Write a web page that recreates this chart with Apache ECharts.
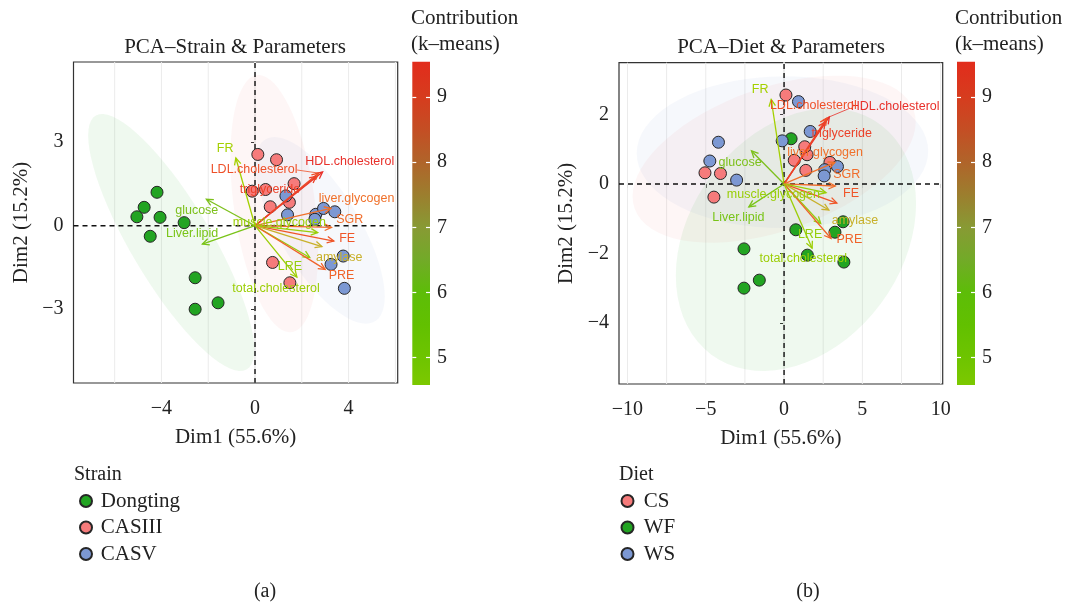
<!DOCTYPE html>
<html><head><meta charset="utf-8">
<script src="https://cdn.jsdelivr.net/npm/echarts@6/dist/echarts.min.js"></script>
<style>html,body{margin:0;padding:0;background:#fff}#c{width:1070px;height:605px}</style>
</head><body><div id="c"></div>
<script>
// ---------- individuals (PCA scores, Dim1 / Dim2) ----------
const sampleX = [-4.19,-4.74,-5.05,-4.06,-3.03,-4.48,-2.56,-1.58,-2.56,
                  0.12, 0.92,-0.12, 1.67, 1.47, 0.65, 0.45, 0.75, 1.49,
                  1.32, 1.39, 2.60, 2.93, 3.41, 2.56, 3.77, 3.25, 3.82];
const sampleY = [ 1.20, 0.66, 0.32, 0.30, 0.11,-0.38,-1.87,-2.77,-3.00,
                  2.56, 2.37, 1.24, 1.51, 0.84, 0.68, 1.30,-1.32,-2.05,
                  1.07, 0.39, 0.41, 0.62, 0.50, 0.23,-1.09,-1.39,-2.25];
const sampleStrain = ['Dongting','Dongting','Dongting','Dongting','Dongting','Dongting','Dongting','Dongting','Dongting',
                      'CASIII','CASIII','CASIII','CASIII','CASIII','CASIII','CASIII','CASIII','CASIII',
                      'CASV','CASV','CASV','CASV','CASV','CASV','CASV','CASV','CASV'];
const sampleDiet = ['WS','WS','CS','CS','WS','CS','WF','WF','WF',
                    'CS','WS','WS','WS','CS','CS','WF','WF','WF',
                    'CS','CS','WS','CS','WS','WS','WF','WF','WF'];
const strainNames = ['Dongting','CASIII','CASV'];
const dietNames = ['CS','WF','WS'];

// ---------- variables (loadings) ----------
const varNames = ['FR','glucose','Liver.lipid','HDL.cholesterol','LDL.cholesterol','triglyceride',
                  'liver.glycogen','SGR','FE','muscle.glycogen','amylase','LRE','PRE','total.cholesterol'];
const varX = [-0.82,-2.08,-2.25, 2.89, 2.72, 2.62, 3.25, 3.27, 3.37, 2.68, 2.86, 2.34, 3.00, 1.79];
const varY = [ 2.43, 0.95,-0.66, 1.93, 1.89, 1.78, 0.62,-0.06,-0.55,-0.25,-0.75,-1.14,-1.57,-1.85];
const varContrib = [4.58, 6.1, 5.9, 9.54, 8.9, 9.2, 8.2, 8.3, 8.8, 5.0, 7.2, 5.2, 8.5, 4.9];

// label anchor points (repelled text) for each panel
const labelXA = [-1.28,-2.49,-2.69, 4.05,-0.04, 0.64, 4.34, 4.05, 3.94, 1.04, 3.60, 1.49, 3.70, 0.90];
const labelYA = [ 2.78, 0.54,-0.29, 2.30, 2.01, 1.29, 0.96, 0.22,-0.47, 0.13,-1.16,-1.46,-1.79,-2.27];
const labelXB = [-1.53,-2.81,-2.92, 7.09, 1.87, 3.68, 2.62, 4.00, 4.28,-0.68, 4.53, 1.66, 4.17, 1.23];
const labelYB = [ 2.73, 0.62,-0.97, 2.22, 2.25, 1.46, 0.91, 0.26,-0.29,-0.32,-1.06,-1.47,-1.61,-2.16];
// repel segments: [variable index, segment start x, start y]
const segA = [[4, 1.80, 2.00]];
const segB = [[3, 4.21, 2.18]];

// ---------- axes ----------
const xTicksA = [-4, 0, 4], yTicksA = [-3, 0, 3];
const gridXA = [-6, -4, -2, 2, 4, 6], gridYA = [-4.5, -3, -1.5, 1.5, 3, 4.5];
const xTicksB = [-10, -5, 0, 5, 10], yTicksB = [-4, -2, 0, 2];
const gridXB = [-10, -7.5, -5, -2.5, 2.5, 5, 7.5, 10], gridYB = [-5, -4, -3, -2, -1, 1, 2, 3];
const cbTicks = [5, 6, 7, 8, 9];

const rangeA = {x: [-7.76, 6.10], y: [-5.65, 5.88]};
const rangeB = {x: [-10.54, 10.13], y: [-5.76, 3.49]};

// ---------- styles ----------
const SERIF = '"Liberation Serif","DejaVu Serif",serif';
const SANS = '"Liberation Sans",Arial,sans-serif';
const groupColors = {Dongting:'#22a422', CASIII:'#f67b7b', CASV:'#7c98d3', CS:'#f67b7b', WF:'#22a422', WS:'#7c98d3'};
const barStops = [[4.58,'#7cc800'],[5.0,'#6ec400'],[5.5,'#62c000'],[6.0,'#5dbd08'],[6.5,'#72aa28'],
                  [7.0,'#889a34'],[7.5,'#9c7e2e'],[8.0,'#b0642a'],[8.5,'#c44e24'],[9.0,'#d63c1e'],[9.54,'#e22c1c']];
const markStops = [[4.58,'#a4d000'],[5.5,'#8ccb10'],[6.0,'#74c21a'],[6.6,'#a8b825'],[7.2,'#c8b02a'],
                   [8.0,'#f07a2c'],[8.7,'#f05a28'],[9.54,'#e8302a']];

function hex(c){return [parseInt(c.slice(1,3),16),parseInt(c.slice(3,5),16),parseInt(c.slice(5,7),16)];}
function scaleColor(stops, v){
  if (v <= stops[0][0]) return stops[0][1];
  for (let i = 1; i < stops.length; i++) {
    if (v <= stops[i][0]) {
      const t = (v - stops[i-1][0]) / (stops[i][0] - stops[i-1][0]);
      const a = hex(stops[i-1][1]), b = hex(stops[i][1]);
      return 'rgb(' + a.map((x,k)=>Math.round(x + (b[k]-x)*t)).join(',') + ')';
    }
  }
  return stops[stops.length-1][1];
}

const cMin = Math.min(...varContrib), cMax = Math.max(...varContrib);

// 95% normal-theory ellipse (as ggplot2 stat_ellipse type="norm")
const F95_2_8 = 4.459; // qf(0.95, 2, n-1) with n = 9 per group
function ellipsePoints(idx){
  const n = idx.length;
  const xs = idx.map(i=>sampleX[i]), ys = idx.map(i=>sampleY[i]);
  const mx = xs.reduce((a,b)=>a+b,0)/n, my = ys.reduce((a,b)=>a+b,0)/n;
  let sxx=0, syy=0, sxy=0;
  for (let k=0;k<n;k++){ sxx+=(xs[k]-mx)**2; syy+=(ys[k]-my)**2; sxy+=(xs[k]-mx)*(ys[k]-my); }
  sxx/=(n-1); syy/=(n-1); sxy/=(n-1);
  const r = Math.sqrt(2*F95_2_8);
  const a = Math.sqrt(sxx), b = sxy/a, c = Math.sqrt(syy - b*b);
  const pts = [];
  for (let k=0;k<72;k++){ const t = 2*Math.PI*k/72; pts.push([mx + r*a*Math.cos(t), my + r*(b*Math.cos(t)+c*Math.sin(t))]); }
  return pts;
}

const minus = v => String(v).replace('-', '\u2212');
const series = [];

function panel(pi, groups, groupOf, range, gridX, gridY, labX, labY, segs){
  // grid lines
  series.push({type:'custom', xAxisIndex:pi, yAxisIndex:pi, z:1, silent:true,
    data: gridX.map(v=>[v, 0]).concat(gridY.map(v=>[0, v, 1])),
    renderItem:(p, api)=>{
      const horiz = api.value(2) === 1;
      const a = horiz ? api.coord([range.x[0], api.value(1)]) : api.coord([api.value(0), range.y[0]]);
      const b = horiz ? api.coord([range.x[1], api.value(1)]) : api.coord([api.value(0), range.y[1]]);
      return {type:'line', shape:{x1:a[0],y1:a[1],x2:b[0],y2:b[1]}, style:{stroke:'#ebebeb', lineWidth:1}};
    }});
  // ellipses
  groups.forEach(g=>{
    const idx = sampleX.map((_,i)=>i).filter(i=>groupOf[i]===g);
    const pts = ellipsePoints(idx);
    series.push({type:'custom', xAxisIndex:pi, yAxisIndex:pi, z:2, silent:true, clip:true,
      data:[[0,0]],
      renderItem:(p, api)=>({type:'polygon', shape:{points: pts.map(q=>api.coord(q))},
        style:{fill: groupColors[g], opacity:0.07}})});
  });
  // zero lines
  series.push({type:'custom', xAxisIndex:pi, yAxisIndex:pi, z:3, silent:true,
    data:[[0,0,0],[0,0,1]],
    renderItem:(p, api)=>{
      const horiz = api.value(2) === 1;
      const a = horiz ? api.coord([range.x[0], 0]) : api.coord([0, range.y[0]]);
      const b = horiz ? api.coord([range.x[1], 0]) : api.coord([0, range.y[1]]);
      return {type:'line', shape:{x1:a[0],y1:a[1],x2:b[0],y2:b[1]}, style:{stroke:'#111', lineWidth:1.4, lineDash:[5,4]}};
    }});
  // individuals
  groups.forEach(g=>{
    series.push({type:'scatter', name:g, xAxisIndex:pi, yAxisIndex:pi, z:4,
      symbolSize:12, itemStyle:{color:groupColors[g], borderColor:'#262626', borderWidth:1, opacity:1},
      data: sampleX.map((x,i)=>[x, sampleY[i], groupOf[i]]).filter(d=>d[2]===g).map(d=>[d[0],d[1]])});
  });
  // variable arrows
  series.push({type:'custom', xAxisIndex:pi, yAxisIndex:pi, z:5, silent:true,
    data: varNames.map((n,i)=>[varX[i], varY[i], varContrib[i]]),
    renderItem:(p, api)=>{
      const o = api.coord([0,0]), t = api.coord([api.value(0), api.value(1)]);
      const col = scaleColor(markStops, api.value(2));
      const ang = Math.atan2(t[1]-o[1], t[0]-o[0]), L = 7.5, s = 0.45;
      const h1 = [t[0]-L*Math.cos(ang-s), t[1]-L*Math.sin(ang-s)];
      const h2 = [t[0]-L*Math.cos(ang+s), t[1]-L*Math.sin(ang+s)];
      return {type:'group', children:[
        {type:'line', shape:{x1:o[0],y1:o[1],x2:t[0],y2:t[1]}, style:{stroke:col, lineWidth:1.3}},
        {type:'polyline', shape:{points:[h1,t,h2]}, style:{stroke:col, lineWidth:1.3, fill:null}}
      ]};
    }});
  // repel segments
  series.push({type:'custom', xAxisIndex:pi, yAxisIndex:pi, z:5, silent:true,
    data: segs.map(s=>[s[1], s[2], varX[s[0]], varY[s[0]], varContrib[s[0]]]),
    renderItem:(p, api)=>{
      const a = api.coord([api.value(0), api.value(1)]), b = api.coord([api.value(2), api.value(3)]);
      return {type:'line', shape:{x1:a[0],y1:a[1],x2:b[0],y2:b[1]}, style:{stroke:scaleColor(markStops, api.value(4)), lineWidth:0.8}};
    }});
  // labels
  series.push({type:'custom', xAxisIndex:pi, yAxisIndex:pi, z:6, silent:true,
    data: varNames.map((n,i)=>[labX[i], labY[i], varContrib[i], i]),
    renderItem:(p, api)=>{
      const c = api.coord([api.value(0), api.value(1)]);
      return {type:'text', x:c[0], y:c[1], style:{text: varNames[api.value(3)], fill: scaleColor(markStops, api.value(2)),
        font:'12.5px ' + SANS, align:'center', verticalAlign:'middle'}};
    }});
}

panel(0, strainNames, sampleStrain, rangeA, gridXA, gridYA, labelXA, labelYA, segA);
panel(1, dietNames, sampleDiet, rangeB, gridXB, gridYB, labelXB, labelYB, segB);

// colour bars
function colorbar(gi){
  series.push({type:'custom', xAxisIndex:gi, yAxisIndex:gi===2?3:5, z:2, silent:true,
    data:[[0, cMax]],
    renderItem:(p, api)=>{
      const a = api.coord([0, cMax]), b = api.coord([1, cMin]);
      const stops = barStops.map(s=>({offset:(cMax - s[0])/(cMax - cMin), color:s[1]})).sort((u,v)=>u.offset-v.offset);
      return {type:'rect', shape:{x:a[0], y:a[1], width:b[0]-a[0], height:b[1]-a[1]},
        style:{fill:new echarts.graphic.LinearGradient(0,0,0,1,stops)}};
    }});
}
colorbar(2); colorbar(3);

const tickStyle = {show:true, length:4, inside:false, lineStyle:{color:'#333', width:1}};
function panelX(gi, range, ticks){
  return {type:'value', gridIndex:gi, min:range.x[0], max:range.x[1], name:'Dim1 (55.6%)', nameLocation:'middle', nameGap:44,
    nameTextStyle:{fontFamily:SERIF, fontSize:21, color:'#222'},
    axisLine:{show:false}, splitLine:{show:false},
    axisTick:Object.assign({customValues:ticks}, tickStyle),
    axisLabel:{customValues:ticks, formatter:minus, margin:16, fontFamily:SERIF, fontSize:20, color:'#222'}};
}
function panelY(gi, range, ticks){
  return {type:'value', gridIndex:gi, min:range.y[0], max:range.y[1], name:'Dim2 (15.2%)', nameLocation:'middle', nameGap:42,
    nameTextStyle:{fontFamily:SERIF, fontSize:21, color:'#222'},
    axisLine:{show:false}, splitLine:{show:false},
    axisTick:Object.assign({customValues:ticks}, tickStyle),
    axisLabel:{customValues:ticks, formatter:minus, margin:10, fontFamily:SERIF, fontSize:20, color:'#222'}};
}
function cbY(gi, pos, labels){
  return {type:'value', gridIndex:gi, position:pos, min:cMin, max:cMax, z:10,
    axisLine:{show:false}, splitLine:{show:false},
    axisTick:{show:true, inside:true, length:4, customValues:cbTicks, lineStyle:{color:'#fff', width:1.2}},
    axisLabel:{show:labels, customValues:cbTicks, margin:7, fontFamily:SERIF, fontSize:20, color:'#222'}};
}
const titleStyle = (size)=>({fontFamily:SERIF, fontSize:size, fontWeight:'normal', color:'#222', lineHeight:26});
const legendText = {fontFamily:SERIF, fontSize:21, color:'#222'};

const option = {
  animation:false,
  backgroundColor:'#fff',
  title:[
    {text:'PCA\u2013Strain & Parameters', left:235, top:34, textAlign:'center', padding:0, textStyle:titleStyle(21)},
    {text:'PCA\u2013Diet & Parameters', left:781, top:34, textAlign:'center', padding:0, textStyle:titleStyle(21)},
    {text:'Contribution\n(k\u2013means)', left:411, top:5, padding:0, textStyle:titleStyle(21)},
    {text:'Contribution\n(k\u2013means)', left:955, top:5, padding:0, textStyle:titleStyle(21)},
    {text:'Strain', left:74, top:462, padding:0, textStyle:titleStyle(20)},
    {text:'Diet', left:619, top:462, padding:0, textStyle:titleStyle(20)},
    {text:'(a)', left:265, top:579, textAlign:'center', padding:0, textStyle:titleStyle(20)},
    {text:'(b)', left:808, top:579, textAlign:'center', padding:0, textStyle:titleStyle(20)}
  ],
  legend:[
    {data:strainNames, orient:'vertical', left:79, top:490.5, padding:0, icon:'circle', itemWidth:19.5, itemHeight:12, itemGap:5.5,
     selectedMode:false, textStyle:legendText},
    {data:dietNames, orient:'vertical', left:620.5, top:490.5, padding:0, icon:'circle', itemWidth:22.5, itemHeight:12, itemGap:5.5,
     selectedMode:false, textStyle:legendText}
  ],
  grid:[
    {left:73.5, top:62, width:324.2, height:321, show:true, borderColor:'#333', borderWidth:1.2, backgroundColor:'transparent'},
    {left:619, top:62.7, width:323.7, height:321.3, show:true, borderColor:'#333', borderWidth:1.2, backgroundColor:'transparent'},
    {left:412.3, top:61.7, width:17.7, height:323.3},
    {left:957, top:61.7, width:18, height:323.3}
  ],
  xAxis:[
    panelX(0, rangeA, xTicksA),
    panelX(1, rangeB, xTicksB),
    {type:'value', gridIndex:2, min:0, max:1, show:false},
    {type:'value', gridIndex:3, min:0, max:1, show:false}
  ],
  yAxis:[
    panelY(0, rangeA, yTicksA),
    panelY(1, rangeB, yTicksB),
    cbY(2, 'left', false),
    cbY(2, 'right', true),
    cbY(3, 'left', false),
    cbY(3, 'right', true)
  ],
  series: series
};
const chart = echarts.init(document.getElementById('c'), null, {renderer:'canvas'});
chart.setOption(option);
</script></body></html>
